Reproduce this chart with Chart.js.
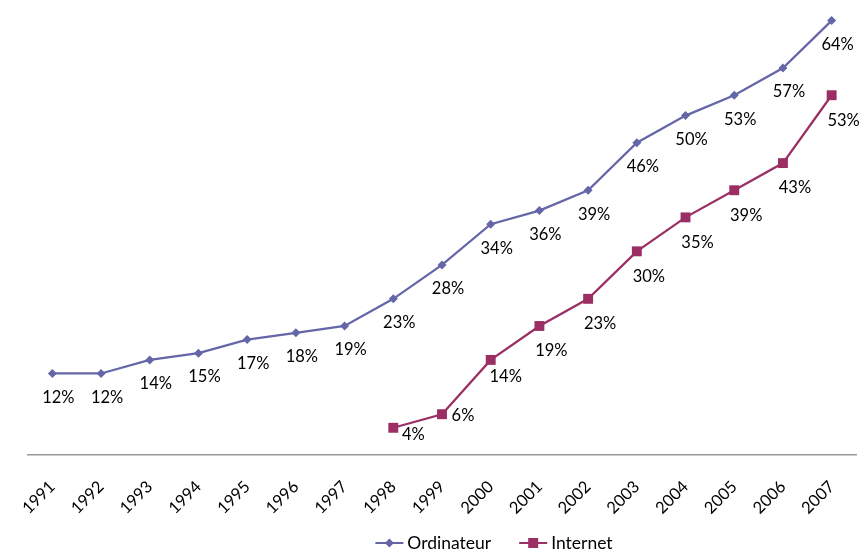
<!DOCTYPE html>
<html>
<head>
<meta charset="utf-8">
<script src="https://cdn.jsdelivr.net/npm/chart.js@4/dist/chart.umd.min.js"></script>
<style>
  html, body { margin: 0; padding: 0; background: #fff; }
  #wrap { width: 864px; height: 552px; }
</style>
</head>
<body>
<div id="wrap"><canvas id="chart" width="864" height="552"></canvas></div>
<script>
// Data
const years = ['1991', '1992', '1993', '1994', '1995', '1996', '1997', '1998', '1999',
               '2000', '2001', '2002', '2003', '2004', '2005', '2006', '2007'];
const ordinateur = [12, 12, 14, 15, 17, 18, 19, 23, 28, 34, 36, 39, 46, 50, 53, 57, 64];
const internet = [null, null, null, null, null, null, null, 4, 6, 14, 19, 23, 30, 35, 39, 43, 53];

const purple = '#6566A8';
const plum = '#9B2F64';
const FONT = 'Lato, "Open Sans", sans-serif';

// draws one legend symbol: short line with the series marker on it
function drawSymbol(g, x, y, color, square) {
    g.strokeStyle = color;
    g.lineWidth = 2;
    g.beginPath(); g.moveTo(x, y); g.lineTo(x + 28, y); g.stroke();
    g.fillStyle = color;
    g.beginPath();
    if (square) {
        g.rect(x + 9, y - 5, 10, 10);
    } else {
        g.moveTo(x + 14, y - 4.5); g.lineTo(x + 18.5, y); g.lineTo(x + 14, y + 4.5); g.lineTo(x + 9.5, y); g.closePath();
    }
    g.fill();
}

// value labels (mostly under the points) and the bottom legend
const extras = {
    id: 'extras',
    afterDatasetsDraw(chart) {
        const ctx = chart.ctx;
        ctx.save();
        ctx.font = '16.5px ' + FONT;
        ctx.fillStyle = '#000';
        ctx.textAlign = 'center';
        ctx.textBaseline = 'middle';
        chart.data.datasets.forEach((ds, di) => {
            const meta = chart.getDatasetMeta(di);
            meta.data.forEach((pt, i) => {
                const v = ds.data[i];
                if (v === null || v === undefined) return;
                let dx = 6, dy = 24;
                if (di === 1) {
                    dx = 12; dy = 25;
                    // first internet points: label sits to the right
                    if (i === 7) { dx = 20; dy = 7; }
                    if (i === 8) { dx = 21; dy = 1; }
                    if (i === 9) { dx = 15; dy = 17; }
                }
                ctx.fillText(v + '%', pt.x + dx, pt.y + dy);
            });
        });

        // legend
        ctx.font = '17.5px ' + FONT;
        ctx.textAlign = 'left';
        const items = chart.data.datasets.map((ds, i) => ({ text: ds.label, color: ds.borderColor, square: i === 1 }));
        const widths = items.map(it => 28 + 4 + ctx.measureText(it.text).width);
        const gap = 28;
        const total = widths.reduce((a, b) => a + b, 0) + gap * (items.length - 1);
        let x = 494 - total / 2;
        const y = 543;
        items.forEach((it, i) => {
            drawSymbol(ctx, x, y, it.color, it.square);
            ctx.fillStyle = '#000';
            ctx.fillText(it.text, x + 32, y);
            x += widths[i] + gap;
        });
        ctx.restore();
    }
};

new Chart(document.getElementById('chart'), {
    type: 'line',
    data: {
        labels: years,
        datasets: [
            {
                label: 'Ordinateur',
                data: ordinateur,
                borderColor: purple,
                backgroundColor: purple,
                borderWidth: 2.25,
                pointStyle: 'rectRot',
                pointRadius: 4.5,
                pointHoverRadius: 4.5,
                pointBorderWidth: 0,
                tension: 0
            },
            {
                label: 'Internet',
                data: internet,
                borderColor: plum,
                backgroundColor: plum,
                borderWidth: 2.25,
                pointStyle: 'rect',
                pointRadius: 7,
                pointHoverRadius: 7,
                pointBorderWidth: 0,
                tension: 0
            }
        ]
    },
    options: {
        responsive: false,
        animation: false,
        layout: { padding: { left: 28, right: 8, top: 4, bottom: 20 } },
        plugins: {
            tooltip: { enabled: false },
            legend: { display: false }
        },
        scales: {
            x: {
                offset: true,
                grid: { display: false },
                border: { display: true, color: '#999', width: 1.5 },
                ticks: {
                    color: '#000',
                    font: { family: FONT, size: 16.5 },
                    minRotation: 45,
                    maxRotation: 45,
                    autoSkip: false,
                    padding: 14
                }
            },
            y: {
                display: false,
                min: 0,
                max: 66
            }
        }
    },
    plugins: [extras]
});
</script>
</body>
</html>
